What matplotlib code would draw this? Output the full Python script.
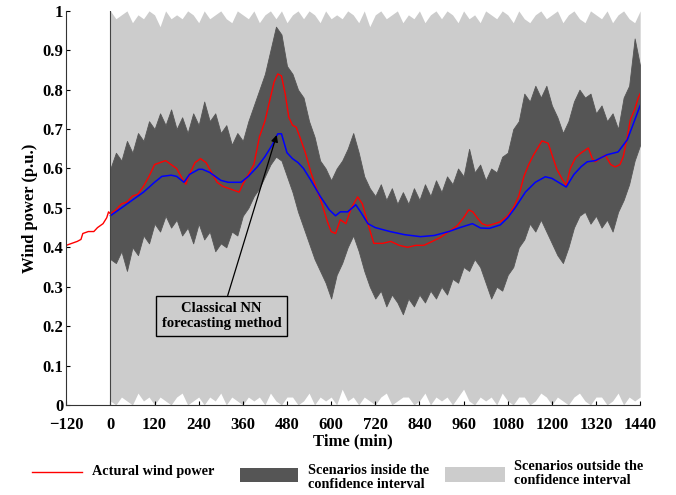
import numpy as np
import matplotlib
matplotlib.use('Agg')
import matplotlib.pyplot as plt
from matplotlib.lines import Line2D
from matplotlib.patches import Rectangle

plt.rcParams['font.family'] = ['Liberation Serif', 'DejaVu Serif']
plt.rcParams['font.weight'] = 'bold'

# scenario band grid (min)
band_t = list(range(0, 1441, 15))

# scenarios inside the confidence interval (dark band)
inside_hi = [0.60, 0.64, 0.62, 0.67, 0.64, 0.69, 0.67, 0.72, 0.70, 0.74, 0.71, 0.75,
             0.70, 0.73, 0.69, 0.74, 0.71, 0.77, 0.72, 0.74, 0.69, 0.71, 0.66, 0.69,
             0.67, 0.72, 0.76, 0.80, 0.84, 0.90, 0.96, 0.94, 0.86, 0.84, 0.80, 0.78,
             0.72, 0.68, 0.62, 0.60, 0.57, 0.60, 0.62, 0.65, 0.69, 0.64, 0.58, 0.55,
             0.53, 0.56, 0.52, 0.55, 0.51, 0.54, 0.51, 0.55, 0.52, 0.56, 0.53, 0.57,
             0.54, 0.58, 0.56, 0.60, 0.58, 0.65, 0.59, 0.61, 0.57, 0.60, 0.59, 0.63,
             0.64, 0.70, 0.72, 0.79, 0.77, 0.81, 0.78, 0.81, 0.76, 0.73, 0.69, 0.72,
             0.77, 0.80, 0.78, 0.79, 0.74, 0.76, 0.72, 0.74, 0.70, 0.78, 0.81, 0.93,
             0.86]
inside_lo = [0.37, 0.36, 0.39, 0.34, 0.40, 0.38, 0.43, 0.41, 0.46, 0.44, 0.48, 0.45,
             0.47, 0.43, 0.45, 0.41, 0.46, 0.42, 0.44, 0.39, 0.41, 0.40, 0.44, 0.43,
             0.48, 0.50, 0.53, 0.55, 0.58, 0.61, 0.63, 0.62, 0.58, 0.54, 0.49, 0.45,
             0.41, 0.37, 0.34, 0.31, 0.27, 0.33, 0.36, 0.40, 0.43, 0.39, 0.34, 0.30,
             0.27, 0.29, 0.25, 0.28, 0.26, 0.23, 0.27, 0.25, 0.28, 0.26, 0.29, 0.27,
             0.30, 0.28, 0.32, 0.31, 0.35, 0.34, 0.37, 0.35, 0.31, 0.27, 0.30, 0.29,
             0.33, 0.35, 0.40, 0.42, 0.46, 0.44, 0.47, 0.44, 0.41, 0.38, 0.36, 0.40,
             0.45, 0.48, 0.49, 0.46, 0.48, 0.45, 0.47, 0.44, 0.49, 0.52, 0.56, 0.62,
             0.66]

# scenarios outside the confidence interval (light band)
outside_hi = [1.0, 0.98, 0.99, 1.0, 0.97, 0.99, 0.98, 1.0, 0.99, 0.96, 1.0, 0.98,
              0.99, 0.98, 1.0, 0.99, 0.97, 1.0, 0.98, 0.99, 1.0, 0.98, 0.97, 1.0,
              0.99, 0.98, 1.0, 0.97, 0.99, 1.0, 0.98, 1.0, 0.97, 0.99, 1.0, 0.98,
              1.0, 0.99, 0.97, 1.0, 0.98, 0.99, 0.98, 1.0, 0.99, 0.97, 1.0, 0.96,
              0.99, 1.0, 0.98, 0.99, 1.0, 0.97, 0.99, 0.98, 1.0, 0.97, 0.99, 1.0,
              0.98, 1.0, 0.99, 0.97, 1.0, 0.98, 0.99, 0.97, 1.0, 0.99, 0.98, 1.0,
              0.99, 0.97, 1.0, 0.98, 0.97, 0.99, 1.0, 0.98, 0.99, 1.0, 0.97, 0.99,
              1.0, 0.98, 0.97, 1.0, 0.99, 0.98, 1.0, 0.97, 0.99, 1.0, 0.98, 0.97,
              1.0]
outside_lo = [0.01, 0.0, 0.02, 0.01, 0.0, 0.03, 0.01, 0.02, 0.0, 0.02, 0.01, 0.0,
              0.02, 0.03, 0.0, 0.01, 0.02, 0.0, 0.02, 0.01, 0.03, 0.0, 0.02, 0.01,
              0.0, 0.02, 0.01, 0.02, 0.0, 0.03, 0.01, 0.0, 0.02, 0.02, 0.0, 0.01,
              0.03, 0.0, 0.02, 0.01, 0.02, 0.0, 0.04, 0.01, 0.02, 0.0, 0.02, 0.01,
              0.0, 0.02, 0.03, 0.0, 0.01, 0.02, 0.02, 0.0, 0.01, 0.03, 0.0, 0.02,
              0.01, 0.02, 0.0, 0.02, 0.04, 0.01, 0.0, 0.02, 0.01, 0.02, 0.0, 0.03,
              0.01, 0.0, 0.02, 0.02, 0.0, 0.01, 0.03, 0.02, 0.0, 0.02, 0.01, 0.0,
              0.02, 0.03, 0.01, 0.0, 0.02, 0.02, 0.0, 0.01, 0.03, 0.0, 0.02, 0.01,
              0.02]

# actual wind power
actual_t = [-120, -105, -90, -80, -75, -60, -45, -35, -20, -10, -5, 0,
            15, 30, 45, 60, 75, 90, 105, 120, 135, 150, 165, 180, 195, 205, 215,
            230, 245, 260, 275, 290, 305, 320, 335, 350, 360, 375, 390, 405, 420,
            435, 445, 455, 465, 475, 485, 495, 505, 515, 530, 545, 560, 575, 590,
            600, 612, 625, 640, 655, 672, 685, 700, 716, 740, 762, 785, 808, 830,
            852, 875, 897, 920, 943, 960, 974, 985, 997, 1010, 1025, 1045, 1060,
            1080, 1097, 1110, 1124, 1137, 1150, 1173, 1190, 1202, 1214, 1227, 1239,
            1250, 1264, 1280, 1299, 1310, 1318, 1330, 1345, 1360, 1372, 1385, 1394,
            1405, 1413, 1425, 1435, 1440]
actual_p = [0.405, 0.41, 0.415, 0.42, 0.435, 0.44, 0.44, 0.45, 0.46, 0.475, 0.49, 0.485,
            0.495, 0.51, 0.515, 0.53, 0.535, 0.555, 0.58, 0.61, 0.615, 0.62, 0.61, 0.60,
            0.575, 0.56, 0.585, 0.615, 0.625, 0.615, 0.59, 0.565, 0.555, 0.55, 0.545,
            0.54, 0.56, 0.585, 0.61, 0.68, 0.72, 0.78, 0.82, 0.84, 0.835, 0.79, 0.73,
            0.71, 0.705, 0.68, 0.64, 0.59, 0.55, 0.51, 0.465, 0.44, 0.435, 0.47, 0.46,
            0.50, 0.528, 0.51, 0.46, 0.41, 0.41, 0.415, 0.405, 0.40, 0.405, 0.405,
            0.415, 0.425, 0.44, 0.455, 0.475, 0.495, 0.49, 0.475, 0.46, 0.455, 0.46,
            0.465, 0.48, 0.503, 0.53, 0.58, 0.61, 0.634, 0.67, 0.664, 0.63, 0.597,
            0.575, 0.556, 0.60, 0.627, 0.64, 0.652, 0.625, 0.617, 0.625, 0.634, 0.61,
            0.604, 0.61, 0.63, 0.68, 0.723, 0.75, 0.78, 0.79]

# classical NN forecast
nn_t = [0, 30, 60, 90, 120, 140, 165, 180, 200, 215, 240, 250, 270, 300, 320, 355,
        375, 400, 420, 440, 455, 465, 480, 495, 510, 525, 545, 570, 595, 612, 625,
        645, 667, 680, 700, 720, 760, 800, 843, 880, 920, 950, 984, 1006, 1030,
        1060, 1080, 1100, 1128, 1155, 1182, 1200, 1239, 1260, 1280, 1296, 1318,
        1350, 1380, 1405, 1420, 1440]
nn_p = [0.48, 0.50, 0.52, 0.54, 0.565, 0.58, 0.583, 0.58, 0.565, 0.585, 0.598, 0.598,
        0.59, 0.57, 0.565, 0.565, 0.58, 0.605, 0.63, 0.66, 0.688, 0.688, 0.64, 0.625,
        0.615, 0.60, 0.57, 0.53, 0.495, 0.48, 0.49, 0.49, 0.508, 0.49, 0.46, 0.45,
        0.44, 0.432, 0.427, 0.43, 0.44, 0.45, 0.46, 0.449, 0.448, 0.457, 0.475, 0.50,
        0.54, 0.565, 0.579, 0.575, 0.553, 0.585, 0.605, 0.617, 0.62, 0.635, 0.642,
        0.673, 0.71, 0.76]

x_ticks = list(range(-120, 1441, 120))
x_labels = ['\u2212120'] + [str(v) for v in x_ticks[1:]]
y_ticks = [i / 10 for i in range(11)]
y_labels = ['0', '0.1', '0.2', '0.3', '0.4', '0.5', '0.6', '0.7', '0.8', '0.9', '1']

LIGHT = '#cccccc'
DARK = '#555555'

fig = plt.figure(figsize=(6.76, 4.95), dpi=100)
ax = fig.add_axes([0.098, 0.182, 0.849, 0.796])

ax.fill_between(band_t, outside_lo, outside_hi, color=LIGHT, lw=0)
ax.fill_between(band_t, inside_lo, inside_hi, color=DARK, lw=0.6, edgecolor=DARK)
ax.plot(actual_t, actual_p, color='red', lw=1.0)
ax.plot(nn_t, nn_p, color='blue', lw=1.1)
ax.axvline(0, color='#444444', lw=0.8)

ax.annotate('Classical NN\nforecasting method', xy=(452, 0.685), xytext=(302, 0.226),
            ha='center', va='center', fontsize=10.5, fontweight='bold',
            bbox=dict(boxstyle='square,pad=0.4', fc=LIGHT, ec='black', lw=1),
            arrowprops=dict(arrowstyle='-|>', color='black', lw=0.9,
                            mutation_scale=10, shrinkA=0, shrinkB=0))

ax.set_xlim(-120, 1440)
ax.set_ylim(0, 1)
ax.set_xticks(x_ticks)
ax.set_xticklabels(x_labels)
ax.set_yticks(y_ticks)
ax.set_yticklabels(y_labels)
ax.tick_params(direction='in', labelsize=12, length=3, width=0.8)
ax.tick_params(axis='x', pad=9)
ax.tick_params(axis='y', pad=2)
for lab in ax.get_xticklabels() + ax.get_yticklabels():
    lab.set_fontweight('bold')
ax.spines['top'].set_visible(False)
ax.spines['right'].set_visible(False)
ax.spines['left'].set_color('#333333')
ax.spines['bottom'].set_color('#333333')
ax.set_xlabel('Time (min)', fontsize=12, fontweight='bold', labelpad=0)
ax.set_ylabel('Wind power (p.u.)', fontsize=12, fontweight='bold', labelpad=3)

# legend below the axes
W, H = 676.0, 495.0
fig.add_artist(Line2D([32 / W, 82 / W], [1 - 472 / H, 1 - 472 / H], color='red', lw=1.0))
fig.text(92 / W, 1 - 472 / H, 'Actural wind power', fontsize=10.3, fontweight='bold', va='center')
fig.add_artist(Rectangle((240 / W, 1 - 482 / H), 58 / W, 14 / H, color=DARK, lw=0))
fig.text(308 / W, 1 - 478 / H, 'Scenarios inside the\nconfidence interval', fontsize=10.3,
         fontweight='bold', va='center', linespacing=1.1)
fig.add_artist(Rectangle((445 / W, 1 - 482 / H), 60 / W, 15 / H, color=LIGHT, lw=0))
fig.text(514 / W, 1 - 473 / H, 'Scenarios outside the\nconfidence interval', fontsize=10.3,
         fontweight='bold', va='center', linespacing=1.1)

fig.savefig('out.png', dpi=100)
